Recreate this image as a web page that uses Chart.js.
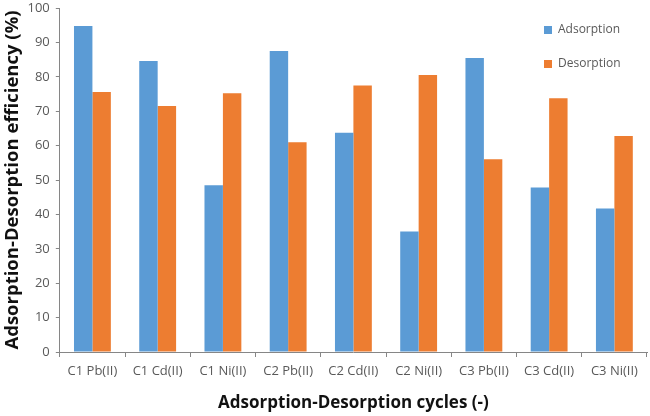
<!DOCTYPE html>
<html lang="en">
<head>
  <meta charset="UTF-8" />
  <title>Adsorption-Desorption efficiency</title>
  <script src="https://cdn.jsdelivr.net/npm/chart.js"></script>
  <style>
    body {
      margin: 0;
      background: #fff;
    }
    #chart {
      display: block;
    }
  </style>
</head>
<body>
  <canvas id="chart" width="650" height="416"></canvas>

<script>
const cycles = ["C1 Pb(II)", "C1 Cd(II)", "C1 Ni(II)", "C2 Pb(II)", "C2 Cd(II)", "C2 Ni(II)", "C3 Pb(II)", "C3 Cd(II)", "C3 Ni(II)"];
const adsorption = [94.8, 84.6, 48.5, 87.5, 63.7, 35.0, 85.5, 47.8, 41.7];
const desorption = [75.6, 71.5, 75.2, 61.0, 77.5, 80.5, 56.0, 73.8, 62.8];
const yTicks = [0, 10, 20, 30, 40, 50, 60, 70, 80, 90, 100];

const fontName = "'Open Sans', 'Liberation Sans', sans-serif";
const textGray = "#595959";
const axisGray = "#868686";

// legend sits inside the plot, top right
const legendMover = {
  id: "legendMover",
  afterLayout(chart) {
    const lg = chart.legend;
    if (!lg) return;
    lg.left = 522;
    lg.right = 650;
    lg.top = 2;
    lg.bottom = 120;
  }
};

new Chart(document.getElementById("chart").getContext("2d"), {
  type: "bar",
  data: {
    labels: cycles,
    datasets: [
      {
        label: "Adsorption",
        data: adsorption,
        backgroundColor: "#5B9BD5",
        borderWidth: 0,
        barPercentage: 1.0,
        categoryPercentage: 0.565,
      },
      {
        label: "Desorption",
        data: desorption,
        backgroundColor: "#ED7D31",
        borderWidth: 0,
        barPercentage: 1.0,
        categoryPercentage: 0.565,
      }
    ]
  },
  options: {
    responsive: false,
    animation: false,
    layout: {
      padding: { top: 0, right: 3, bottom: 3, left: 1 }
    },
    scales: {
      x: {
        grid: {
          display: true,
          drawOnChartArea: false,
          drawTicks: true,
          tickLength: 5,
          color: axisGray,
          offset: true,
        },
        border: { color: axisGray, width: 1 },
        ticks: {
          color: textGray,
          font: { family: fontName, size: 13 },
          maxRotation: 0,
          autoSkip: false,
          padding: 6,
        },
        title: {
          display: true,
          text: "Adsorption-Desorption cycles (-)",
          color: "#111",
          font: { family: fontName, size: 17, weight: "bold" },
          padding: { top: 8, bottom: 0 },
        }
      },
      y: {
        min: 0,
        max: 100,
        afterBuildTicks(scale) {
          scale.ticks = yTicks.map(v => ({ value: v }));
        },
        afterFit(scale) {
          scale.paddingTop = 8;
        },
        grid: {
          display: true,
          drawOnChartArea: false,
          drawTicks: true,
          tickLength: 4,
          color: axisGray,
        },
        border: { color: axisGray, width: 1 },
        ticks: {
          color: textGray,
          font: { family: fontName, size: 13 },
          padding: 6,
        },
        title: {
          display: true,
          text: "Adsorption-Desorption efficiency (%)",
          color: "#111",
          font: { family: fontName, size: 18.5, weight: "bold", lineHeight: 1.0 },
          padding: { top: 2, bottom: 0 },
        }
      }
    },
    plugins: {
      legend: {
        display: true,
        position: "chartArea",
        align: "start",
        labels: {
          boxWidth: 8,
          boxHeight: 8,
          padding: 22,
          color: textGray,
          font: { family: fontName, size: 12 },
        }
      },
      tooltip: { enabled: false }
    }
  },
  plugins: [legendMover]
});
</script>
</body>
</html>
